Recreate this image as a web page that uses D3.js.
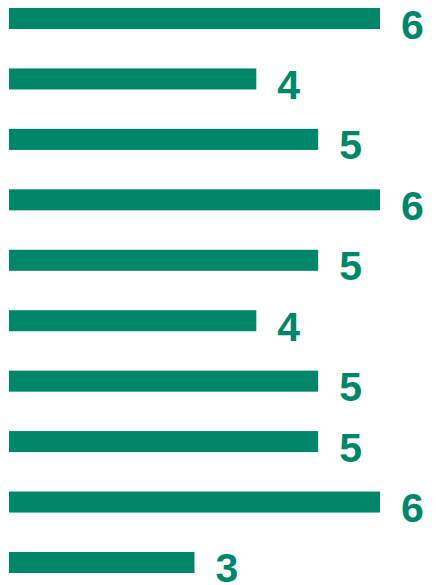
<!DOCTYPE html>
<html>
<head>
<meta charset="utf-8">
<script src="https://cdn.jsdelivr.net/npm/d3@7"></script>
<style>
  body { margin: 0; background: #fff; }
  .lbl { font-family: "Liberation Sans", Arial, sans-serif; font-weight: bold; }
</style>
</head>
<body>
<div id="chart"></div>
<script>
const categories = ["a", "b", "c", "d", "e", "f", "g", "h", "i", "j"];
const values = [6, 4, 5, 6, 5, 4, 5, 5, 6, 3];

const w = 436, h = 585;
const green = "#00876a";

const svg = d3.select("#chart").append("svg")
  .attr("width", w)
  .attr("height", h);

const xScale = d3.scaleLinear()
  .domain([0, 6])
  .range([9, 380]);

const yScale = d3.scaleBand()
  .domain(categories)
  .range([8, 573])
  .paddingInner(0.652)
  .paddingOuter(0);

svg.selectAll("rect")
  .data(values)
  .enter()
  .append("rect")
  .attr("x", xScale(0))
  .attr("y", (d, i) => yScale(categories[i]))
  .attr("width", d => xScale(d) - xScale(0))
  .attr("height", yScale.bandwidth())
  .attr("fill", green);

svg.selectAll("text.lbl")
  .data(values)
  .enter()
  .append("text")
  .attr("class", "lbl")
  .attr("x", d => xScale(d) + 21)
  .attr("y", (d, i) => yScale(categories[i]) + 30.5)
  .attr("font-size", 41)
  .attr("fill", green)
  .text(d => d);
</script>
</body>
</html>
